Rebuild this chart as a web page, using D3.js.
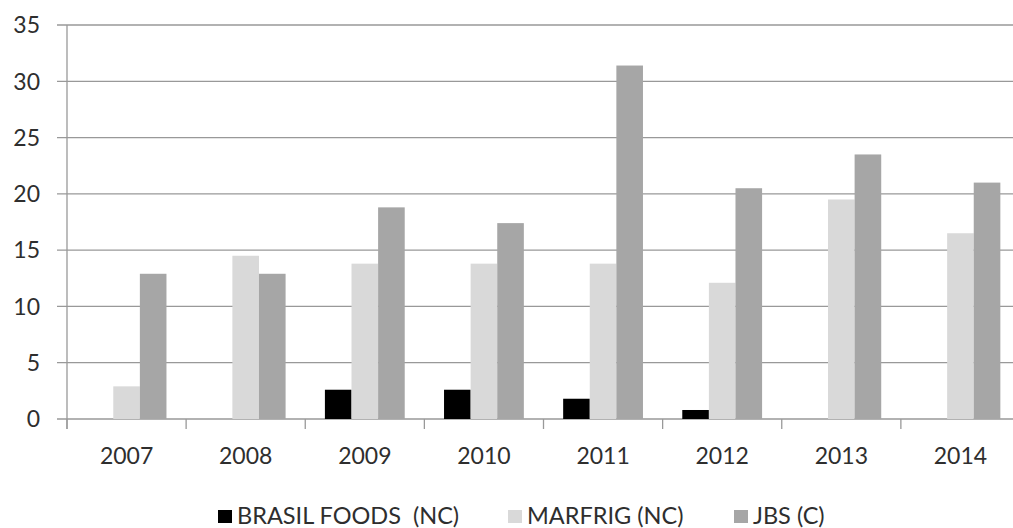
<!DOCTYPE html>
<html><head><meta charset="utf-8">
<script src="https://cdn.jsdelivr.net/npm/d3@7/dist/d3.min.js"></script>
<style>body{margin:0;background:#fff}svg{display:block}text{font-family:Lato,"Open Sans",sans-serif;fill:#2e2e2e}</style>
</head><body><svg id="c" width="1013" height="528"></svg>
<script>
const years = ["2007","2008","2009","2010","2011","2012","2013","2014"];
const seriesNames = ["BRASIL FOODS  (NC)","MARFRIG (NC)","JBS (C)"];
const brasilFoods = [0,0,2.6,2.6,1.8,0.8,0,0];
const marfrig = [2.9,14.5,13.8,13.8,13.8,12.1,19.5,16.5];
const jbs = [12.9,12.9,18.8,17.4,31.4,20.5,23.5,21.0];
const yTicks = [0,5,10,15,20,25,30,35];
const colors = ["#000000","#d9d9d9","#a6a6a6"];
const seriesVals = [brasilFoods, marfrig, jbs];

const svg = d3.select("#c");
const x0 = 67, x1 = 1020, yTop = 25, yBot = 419;
const x = d3.scaleBand().domain(years).range([x0,x1]).paddingInner(0.33).paddingOuter(0.165);
const xs = d3.scaleBand().domain([0,1,2]).range([0,x.bandwidth()]);
const y = d3.scaleLinear().domain([0,35]).range([yBot,yTop]);

// gridlines
svg.append("g").selectAll("line").data(yTicks).join("line")
  .attr("x1",x0-10).attr("x2",x1).attr("y1",d=>y(d)).attr("y2",d=>y(d))
  .attr("stroke","#999").attr("stroke-width",1.3);
// y labels
svg.append("g").selectAll("text").data(yTicks).join("text")
  .attr("x",40).attr("y",d=>y(d)).attr("dy","0.36em").attr("text-anchor","end")
  .attr("font-size",23).text(d=>d);
// y axis line
svg.append("line").attr("x1",x0).attr("x2",x0).attr("y1",yTop).attr("y2",yBot+10).attr("stroke","#999").attr("stroke-width",1.3);
// category ticks
const boundaries = years.map((d,i)=>x0 + i*(x1-x0)/years.length).concat([x1]);
svg.append("g").selectAll("line").data(boundaries).join("line")
  .attr("x1",d=>d).attr("x2",d=>d).attr("y1",yBot).attr("y2",yBot+10).attr("stroke","#999").attr("stroke-width",1.3);
// bars
const g = svg.append("g");
seriesVals.forEach((vals,si)=>{
  g.selectAll(null).data(vals.map((v,i)=>({v,yr:years[i]}))).join("rect")
    .attr("x",d=>x(d.yr)+xs(si)).attr("width",xs.bandwidth())
    .attr("y",d=>y(d.v)).attr("height",d=>yBot-y(d.v))
    .attr("fill",colors[si]);
});
// x labels
svg.append("g").selectAll("text").data(years).join("text")
  .attr("x",d=>x(d)+x.bandwidth()/2).attr("y",456).attr("dy","0.36em").attr("text-anchor","middle")
  .attr("font-size",23).text(d=>d);
// legend
const legX = [218,508,734];
const lg = svg.append("g");
seriesNames.forEach((n,i)=>{
  lg.append("rect").attr("x",legX[i]).attr("y",510).attr("width",14).attr("height",13).attr("fill",colors[i]);
  lg.append("text").attr("x",legX[i]+19).attr("y",516).attr("dy","0.36em").attr("font-size",23.5)
    .attr("xml:space","preserve").style("white-space","pre").text(n);
});
</script></body></html>
